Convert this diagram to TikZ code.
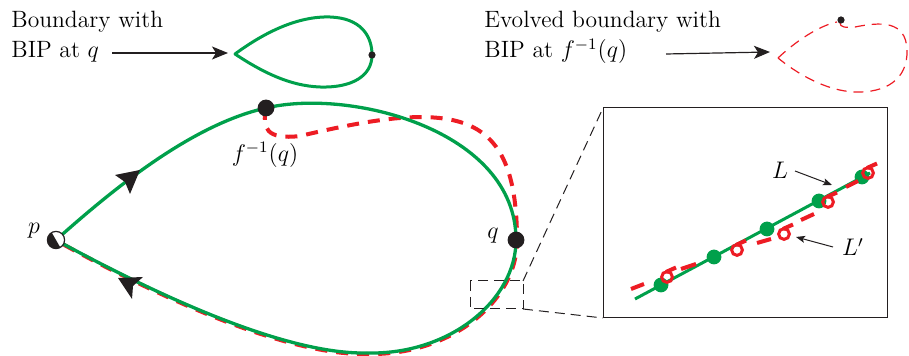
\documentclass[tikz,border=0pt]{standalone}
\usetikzlibrary{arrows.meta}
\definecolor{bgreen}{RGB}{0,160,75}
\definecolor{bred}{RGB}{237,28,36}
\definecolor{ink}{RGB}{35,31,32}
\begin{document}
\begin{tikzpicture}[x=0.5pt,y=-0.5pt, font=\fontsize{11.8}{14}\selectfont,
  gline/.style={bgreen, line width=1.65pt, line join=round},
  rdash/.style={bred, line width=2pt, dash pattern=on 6pt off 4.5pt},
  rthin/.style={bred, line width=0.6pt, dash pattern=on 5pt off 3.5pt},
  pointer/.style={ink, line width=0.6pt, -{Stealth[length=8pt, width=6.5pt, inset=2pt]}},
  smallpointer/.style={ink, line width=0.5pt, -{Stealth[length=4.5pt, width=3.5pt, inset=1pt]}},
  zoomline/.style={ink, line width=0.5pt, dash pattern=on 5pt off 3pt},
  bigtip/.style={ink},
  gdot/.style={bgreen},
  rcirc/.style={bred, line width=1.5pt},
  rseg/.style={bred, line width=2pt}]
\useasboundingbox (0,0) rectangle (909,356);

% ---------- top-left: boundary with BIP at q ----------
\node[anchor=base west, inner sep=0pt] (t1) at (11,28) {Boundary with};
\node[anchor=base west, inner sep=0pt] (t2) at (11,58) {BIP at $q$};
\coordinate (a1s) at (112,53);
\coordinate (tip1) at (235,54);
\draw[pointer] (a1s) -- (228,53);
\draw[bgreen, line width=1.5pt, line join=round] (tip1) .. controls (265,32) and (298,16) .. (330,17)
  .. controls (360,18) and (372,35) .. (372,55)
  .. controls (372,76) and (352,88) .. (320,87)
  .. controls (290,86) and (262,72) .. (tip1) -- cycle;
\fill[ink] (372,55) circle (1.8pt);

% ---------- top-right: evolved boundary ----------
\node[anchor=base west, inner sep=0pt] (t3) at (484,28) {Evolved boundary with};
\node[anchor=base west, inner sep=0pt] (t4) at (484,58) {BIP at $f^{-1}(q)$};
\coordinate (a2s) at (666,54);
\coordinate (tip2) at (778,58);
\draw[pointer] (a2s) -- (770,52);
\draw[rthin] (tip2) .. controls (795,42) and (818,26) .. (837,22);
\draw[rthin] (840,23) .. controls (840,27) and (845,28) .. (855,27)
  .. controls (880,22) and (906,20) .. (907,50)
  .. controls (908,80) and (885,93) .. (855,92)
  .. controls (825,91) and (795,72) .. (tip2);
\fill[ink] (841,20) circle (1.8pt);

% ---------- main boundary ----------
\coordinate (p) at (56,240);
\coordinate (q) at (516,240);
\coordinate (fq) at (266,108);
\draw[rdash] (fq) .. controls (262,128) and (266,140) .. (300,136)
  .. controls (360,122) and (420,110) .. (460,122)
  .. controls (500,134) and (517,170) .. (517,241)
  .. controls (517,301) and (451,356) .. (367,354)
  .. controls (320,355) and (230,336) .. (57,241);
\draw[gline] (p) .. controls (110,192) and (190,125) .. (fq)
  .. controls (350,88) and (516,130) .. (q)
  .. controls (516,300) and (450,355) .. (367,353)
  .. controls (320,354) and (230,335) .. (p);

% direction arrows
\fill[bigtip] (140,170) -- (115,175) -- (125,182) -- (130,194) -- cycle;
\fill[bigtip] (118,278) -- (143,277) -- (133,286) -- (132,299) -- cycle;

% points
\fill[white] (p) circle (4.3pt);
\fill[ink] (p) ++(120:4.3pt) arc (120:300:4.3pt) -- cycle;
\draw[ink, line width=0.6pt] (p) circle (4.3pt);
\fill[ink] (q) circle (4.2pt);
\fill[ink] (fq) circle (4.2pt);
\node (plab) at (34,231) {$p$};
\node (qlab) at (493,236) {$q$};
\node (fqlab) at (265,155) {$f^{-1}(q)$};

% ---------- zoom ----------
\coordinate (r1) at (470,281);
\coordinate (r2) at (523,309);
\coordinate (b1) at (603,108);
\coordinate (b2) at (887,318);
\draw[zoomline] (r1) rectangle (r2);
\draw[zoomline] (r2 |- r1) -- (b1);
\draw[zoomline] (r2) -- (b1 |- b2);
\draw[ink, line width=0.5pt] (b1) rectangle (b2);

% inset content
\draw[bgreen, line width=1.5pt] (635,299) -- (870,173);
\foreach \x/\y in {661/285, 714/257, 767/229, 819/201, 862/177}
  \fill[gdot] (\x,\y) circle (3.7pt);
\foreach \a/\b/\c/\d in {631/289/644/284, 681/269/696/264, 757/243/771/239, 801/220/814/214, 846/187/858/181}
  \draw[rseg] (\a,\b) -- (\c,\d);
\foreach \x/\y in {667/277, 737/250, 784/234, 828/202, 868/173}{
  \draw[rcirc] (\x,\y) circle (2.7pt);
  \draw[rseg] (\x-1,\y-5) -- (\x+9,\y-9.5);
}
\node (Llab) at (780,170) {$L$};
\node (Lplab) at (853,247) {$L'$};
\draw[smallpointer] (795,171) -- (832,185);
\draw[smallpointer] (833,247) -- (796,237);
\end{tikzpicture}
\end{document}
